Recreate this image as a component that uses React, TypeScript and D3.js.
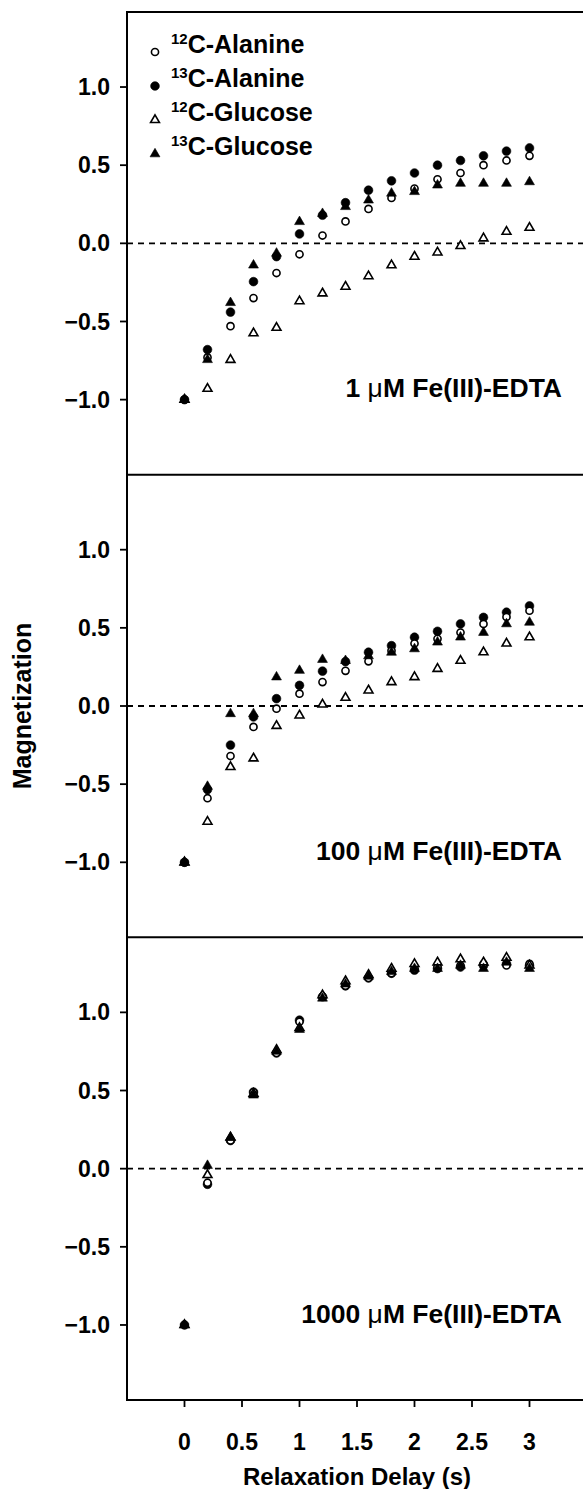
import React from 'react';
import * as d3 from 'd3';

const delays = [0, 0.2, 0.4, 0.6, 0.8, 1.0, 1.2, 1.4, 1.6, 1.8, 2.0, 2.2, 2.4, 2.6, 2.8, 3.0];

const seriesNames = ['12C-Alanine', '13C-Alanine', '12C-Glucose', '13C-Glucose'];
const panelLabels = ['1', '100', '1000'];

// Panel 1: 1 uM Fe(III)-EDTA
const p1Ala12 = [-1.0, -0.73, -0.53, -0.35, -0.19, -0.07, 0.05, 0.14, 0.22, 0.29, 0.35, 0.41, 0.45, 0.5, 0.53, 0.56];
const p1Ala13 = [-1.0, -0.68, -0.44, -0.245, -0.085, 0.06, 0.18, 0.26, 0.34, 0.4, 0.45, 0.5, 0.53, 0.56, 0.59, 0.61];
const p1Glc12 = [-1.0, -0.93, -0.745, -0.575, -0.54, -0.37, -0.32, -0.277, -0.21, -0.14, -0.085, -0.058, -0.017, 0.032, 0.074, 0.1];
const p1Glc13 = [-1.0, -0.745, -0.38, -0.14, -0.064, 0.138, 0.19, 0.234, 0.276, 0.32, 0.33, 0.372, 0.383, 0.383, 0.383, 0.393];

// Panel 2: 100 uM Fe(III)-EDTA
const p2Ala12 = [-1.0, -0.59, -0.32, -0.134, -0.017, 0.079, 0.153, 0.225, 0.286, 0.354, 0.4, 0.43, 0.47, 0.525, 0.57, 0.61];
const p2Ala13 = [-1.0, -0.535, -0.25, -0.07, 0.047, 0.132, 0.223, 0.284, 0.344, 0.386, 0.44, 0.478, 0.525, 0.567, 0.6, 0.64];
const p2Glc12 = [-1.0, -0.74, -0.39, -0.335, -0.127, -0.06, 0.01, 0.053, 0.1, 0.153, 0.185, 0.238, 0.29, 0.344, 0.4, 0.44];
const p2Glc13 = [-1.0, -0.515, -0.05, -0.05, 0.185, 0.227, 0.297, 0.29, 0.32, 0.343, 0.365, 0.408, 0.44, 0.47, 0.525, 0.535];

// Panel 3: 1000 uM Fe(III)-EDTA
const p3Ala12 = [-1.0, -0.09, 0.18, 0.49, 0.74, 0.94, 1.1, 1.17, 1.22, 1.25, 1.28, 1.29, 1.3, 1.31, 1.3, 1.31];
const p3Ala13 = [-1.0, -0.1, 0.18, 0.49, 0.74, 0.95, 1.1, 1.17, 1.22, 1.25, 1.27, 1.28, 1.29, 1.3, 1.31, 1.3];
const p3Glc12 = [-1.0, -0.04, 0.2, 0.48, 0.76, 0.9, 1.11, 1.2, 1.24, 1.28, 1.31, 1.32, 1.34, 1.32, 1.35, 1.3];
const p3Glc13 = [-1.0, 0.02, 0.2, 0.47, 0.75, 0.89, 1.09, 1.18, 1.23, 1.26, 1.28, 1.28, 1.3, 1.28, 1.32, 1.28];

const panelData = [
  [p1Ala12, p1Ala13, p1Glc12, p1Glc13],
  [p2Ala12, p2Ala13, p2Glc12, p2Glc13],
  [p3Ala12, p3Ala13, p3Glc12, p3Glc13],
];

const yTicks = [-1.0, -0.5, 0, 0.5, 1.0];
const xTicks = [0, 0.5, 1, 1.5, 2, 2.5, 3];

const W = 583;
const H = 1489;
const left = 127;
const top = 12;
const bottom = 1400;
const panelH = (bottom - top) / 3;
const FONT = '"Liberation Sans", Arial, Helvetica, sans-serif';

const x = d3.scaleLinear().domain([-0.5, 3.5]).range([left, left + 460]);

// marker styles: 0 open circle, 1 filled circle, 2 open triangle, 3 filled triangle
const symbolFor = (i: number) => {
  const open = i === 0 || i === 2;
  const isTri = i >= 2;
  const size = isTri ? (open ? 34 : 42) : open ? 40 : 60;
  return {
    d: d3.symbol().type(isTri ? d3.symbolTriangle : d3.symbolCircle).size(size)() as string,
    fill: open ? '#fff' : '#000',
    stroke: '#000',
    sw: open ? 1.6 : 0.6,
  };
};

const fmtY = (v: number) => (v === 0 ? '0.0' : d3.format('.1f')(v));

function Marker({ i, cx, cy }: { i: number; cx: number; cy: number }) {
  const s = symbolFor(i);
  return <path d={s.d} transform={`translate(${cx},${cy})`} fill={s.fill} stroke={s.stroke} strokeWidth={s.sw} />;
}

export default function App() {
  const drawOrder = [1, 0, 2, 3];
  return (
    <svg width={W} height={H} style={{ position: 'absolute', left: 0, top: 0, background: '#fff' }} fontFamily={FONT}>
      <rect x={0} y={0} width={W} height={H} fill="#fff" />
      {panelData.map((series, p) => {
        const pTop = top + p * panelH;
        const y = d3.scaleLinear().domain([-1.48, 1.48]).range([pTop + panelH, pTop]);
        return (
          <g key={p}>
            <line x1={left} x2={W} y1={y(0)} y2={y(0)} stroke="#000" strokeWidth={1.8} strokeDasharray="6,5" />
            {yTicks.map((t) => (
              <g key={t}>
                <line x1={left - 7} x2={left} y1={y(t)} y2={y(t)} stroke="#000" strokeWidth={1.8} />
                <text x={left - 17} y={y(t)} dy="0.35em" textAnchor="end" fontSize={23} fontWeight="bold">
                  {fmtY(t)}
                </text>
              </g>
            ))}
            {drawOrder.map((si) =>
              series[si].map((v, k) => <Marker key={`${si}-${k}`} i={si} cx={x(delays[k])} cy={y(v)} />)
            )}
            <text x={562} y={y(-0.925)} dy="0.35em" textAnchor="end" fontSize={26.5} fontWeight="bold">
              {panelLabels[p]} <tspan fontWeight="normal">μ</tspan>M Fe(III)-EDTA
            </text>
            <line x1={left} x2={W} y1={pTop} y2={pTop} stroke="#000" strokeWidth={2} />
          </g>
        );
      })}
      <line x1={left} x2={W} y1={bottom} y2={bottom} stroke="#000" strokeWidth={2} />
      <line x1={left} x2={left} y1={top - 1} y2={bottom + 1} stroke="#000" strokeWidth={2} />
      {xTicks.map((t) => (
        <g key={t}>
          <line x1={x(t)} x2={x(t)} y1={bottom} y2={bottom + 7} stroke="#000" strokeWidth={1.8} />
          <text x={x(t)} y={bottom + 42} dy="0.35em" textAnchor="middle" fontSize={23} fontWeight="bold">
            {String(t)}
          </text>
        </g>
      ))}
      <text x={(x(0) + x(3)) / 2} y={1477} dy="0.35em" textAnchor="middle" fontSize={24} fontWeight="bold">
        Relaxation Delay (s)
      </text>
      <text transform={`translate(22,${(top + bottom) / 2}) rotate(-90)`} dy="0.35em" textAnchor="middle" fontSize={25} fontWeight="bold">
        Magnetization
      </text>
      {seriesNames.map((name, i) => {
        const ly = 52 + i * 34;
        const iso = name.slice(0, 2);
        const rest = name.slice(2);
        return (
          <g key={name}>
            <Marker i={i} cx={155} cy={ly} />
            <text x={171} y={ly} dy="0.35em" fontSize={25} fontWeight="bold">
              <tspan fontSize={15} dy="-0.55em">{iso}</tspan>
              <tspan dy="0.35em">{rest}</tspan>
            </text>
          </g>
        );
      })}
    </svg>
  );
}
